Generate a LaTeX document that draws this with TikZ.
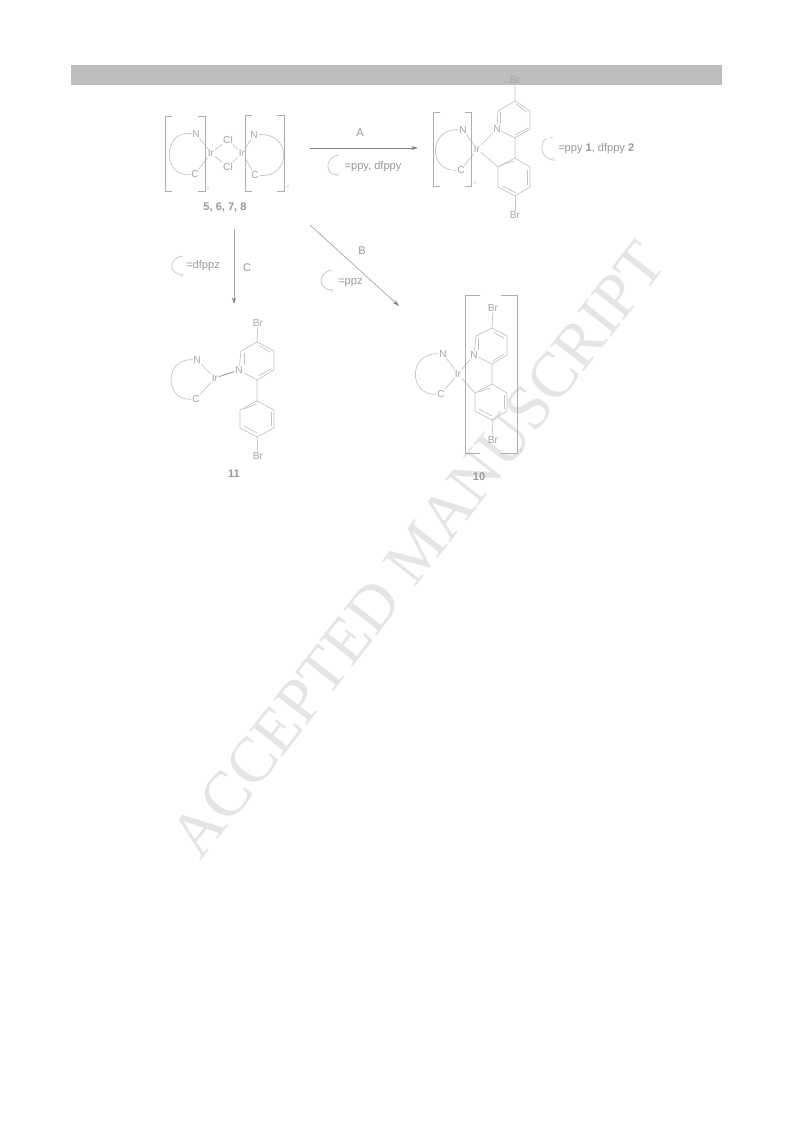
\documentclass[tikz,border=0pt]{standalone}
\usepackage{fontspec}
\setmainfont{Liberation Sans}
\newfontfamily\wmfont{Liberation Serif}
\usetikzlibrary{arrows.meta}
\definecolor{wm}{gray}{0.9}
\definecolor{bandc}{gray}{0.74}
\definecolor{ln}{gray}{0.76}
\definecolor{arr}{gray}{0.5}
\definecolor{txt}{gray}{0.6}
\tikzset{
 x=0.75pt,y=-0.75pt,
 bond/.style={draw=ln,line width=0.5pt},
 brk/.style={draw=ln!90!black,line width=0.6pt},
 rxn/.style={draw=arr,line width=0.5pt,-{Stealth[length=5pt,width=3pt]}},
 rxnlight/.style={draw=ln!85!black,line width=0.5pt,-{Stealth[length=5pt,width=3pt,color=arr]}},
 lab/.style={text=txt,font=\fontsize{8.3}{10}\selectfont,inner sep=0pt},
 atom/.style={text=ln!85!black,font=\fontsize{7.6}{9}\selectfont,inner sep=0.5pt},
 sub/.style={text=ln,font=\fontsize{3.5}{4}\selectfont,inner sep=0pt},
 cmp/.style={text=txt,font=\bfseries\fontsize{8.3}{10}\selectfont,inner sep=0pt},
}
\begin{document}
\begin{tikzpicture}
\useasboundingbox (0,0) rectangle (793,1123);
\fill[white] (0,0) rectangle (793,1123);
% watermark
\node[rotate=52,text=wm,font=\wmfont\fontsize{48}{48}\selectfont,inner sep=0pt] (wmark) at (418,550) {ACCEPTED MANUSCRIPT};
% band
\fill[bandc] (71,65) rectangle (722,85);

% ----- dimer
\node[atom] (n1) at (196,134) {N};
\node[atom] (c1) at (195,174) {C};
\node[atom] (ir1) at (211,153) {Ir};
\node[atom] (cl1) at (228,140) {Cl};
\node[atom] (cl2) at (228,167) {Cl};
\node[atom] (ir2) at (242,153) {Ir};
\node[atom] (n2) at (254,135) {N};
\node[atom] (c2) at (255,175) {C};
\draw[bond] (n1)--(ir1); \draw[bond] (c1)--(ir1);
\draw[bond] (ir1)--(cl1); \draw[bond] (ir1)--(cl2);
\draw[bond] (cl1)--(ir2); \draw[bond] (cl2)--(ir2);
\draw[bond] (ir2)--(n2); \draw[bond] (ir2)--(c2);
\draw[bond] (n1) .. controls (162,130) and (162,178) .. (c1);
\draw[bond] (n2) .. controls (292,132) and (292,178) .. (c2);
\draw[brk] (172,116) -- (165,116) -- (165,191) -- (172,191);
\draw[brk] (198,116) -- (205,116) -- (205,191) -- (198,191);
\draw[brk] (252,115) -- (245,115) -- (245,191) -- (252,191);
\draw[brk] (277,115) -- (284,115) -- (284,191) -- (277,191);
\node[sub] (s1) at (208,188) {2};
\node[sub] (s2) at (288,187) {2};
\node[cmp] (l5678) at (225,207) {5, 6, 7, 8};

% ----- arrow A
\coordinate (a1) at (310,148);
\coordinate (a2) at (418,148);
\draw[rxn] (a1) -- (a2);
\node[lab] (la) at (360,133) {A};
\draw[bond] (339,155) .. controls (324,157) and (325,175) .. (337,175);
\node[sub] (sa) at (338,175) {2};
\node[lab] (ta) at (373,167) {=ppy, dfppy};

% ----- complex 1,2
\node[atom] (n3) at (463,130) {N};
\node[atom] (c3) at (461,170) {C};
\node[atom] (ir3) at (477,149) {Ir};
\node[atom] (n4) at (497,129) {N};
\draw[bond] (n3)--(ir3); \draw[bond] (c3)--(ir3); \draw[bond] (ir3)--(n4);
\draw[bond] (n3) .. controls (428,128) and (428,172) .. (c3);
\draw[brk] (440,112) -- (433,112) -- (433,186) -- (440,186);
\draw[brk] (465,112) -- (471,112) -- (471,186) -- (465,186);
\node[sub] (s3) at (475,183) {2};
\node[atom] (br1) at (515,80) {Br};
\node[atom] (br2) at (515,215) {Br};
\coordinate (p1) at (515,101); \coordinate (p2) at (530,111); \coordinate (p3) at (530,129);
\coordinate (p4) at (515,138); \coordinate (p5) at (498,111);
\draw[bond] (br1)--(p1)--(p2)--(p3)--(p4)--(n4)--(p5)--(p1);
\draw[bond] (516,104)--(527,112); \draw[bond] (528,128)--(515,135); \draw[bond] (500,112)--(500,124);
\coordinate (q1) at (515,158); \coordinate (q2) at (530,167); \coordinate (q3) at (530,187);
\coordinate (q4) at (515,196); \coordinate (q5) at (498,187); \coordinate (q6) at (498,167);
\draw[bond] (p4)--(q1)--(q2)--(q3)--(q4)--(q5)--(q6)--(q1);
\draw[bond] (527,170)--(527,185); \draw[bond] (516,193)--(502,186); \draw[bond] (501,165)--(514,161);
\draw[bond] (q4)--(br2); \draw[bond] (ir3)--(q6);
\draw[bond] (547,138) .. controls (538,143) and (541,159) .. (553,160);
\draw[bond] (553,138) -- (550,137.5);
\node[sub] (sb) at (554,160) {2};
\node[lab,anchor=west] (tb) at (558,149) {=ppy \textbf{1}, dfppy \textbf{2}};

% ----- arrow C
\coordinate (c1a) at (234,229);
\coordinate (c1b) at (234,304);
\draw[rxnlight] (c1a) -- (c1b);
\node[lab] (lc) at (247,268) {C};
\draw[bond] (183,256) .. controls (168,258) and (168,274) .. (183,275);
\node[sub] (sc) at (182,276) {2};
\node[lab,anchor=west] (tc) at (186,266) {=dfppz};

% ----- arrow B
\coordinate (b1a) at (310,225);
\coordinate (b1b) at (399,306);
\draw[rxnlight] (b1a) -- (b1b);
\node[lab] (lb) at (362,251) {B};
\draw[bond] (332,270) .. controls (317,272) and (318,290) .. (332,290);
\node[sub] (sd) at (332,291) {2};
\node[lab,anchor=west] (td) at (338,283) {=ppz};

% ----- complex 11
\node[atom] (n5) at (197,360) {N};
\node[atom] (c5) at (196,399) {C};
\node[atom] (ir5) at (215,378) {Ir};
\node[atom] (n6) at (239,370) {N};
\node[atom] (br3) at (258,323) {Br};
\node[atom] (br4) at (258,456) {Br};
\draw[bond] (n5)--(ir5); \draw[bond] (c5)--(ir5); \draw[line width=0.7pt,draw=ln!80!black] (ir5)--(n6);
\draw[bond] (n5) .. controls (164,358) and (164,401) .. (c5);
\coordinate (r1) at (257,342); \coordinate (r2) at (274,351); \coordinate (r3) at (274,370);
\coordinate (r4) at (257,380); \coordinate (r5) at (241,351);
\draw[bond] (br3)--(r1)--(r2)--(r3)--(r4)--(n6)--(r5)--(r1);
\draw[bond] (259,346)--(271,352); \draw[bond] (271,369)--(258,376); \draw[bond] (244,353)--(244,365);
\coordinate (t1) at (257,401); \coordinate (t2) at (274,410); \coordinate (t3) at (274,428);
\coordinate (t4) at (257,437); \coordinate (t5) at (240,428); \coordinate (t6) at (240,410);
\draw[bond] (r4)--(t1)--(t2)--(t3)--(t4)--(t5)--(t6)--(t1);
\draw[bond] (271,412)--(271,426); \draw[bond] (257,433)--(244,426); \draw[bond] (244,409)--(256,404);
\draw[bond] (t4)--(br4);
\node[cmp] (l11) at (234,474) {11};

% ----- complex 10
\node[atom] (n7) at (443,354) {N};
\node[atom] (c7) at (441,394) {C};
\node[atom] (ir7) at (458,374) {Ir};
\node[atom] (n8) at (474,355) {N};
\node[atom] (br5) at (493,308) {Br};
\node[atom] (br6) at (493,440) {Br};
\draw[bond] (n7)--(ir7); \draw[bond] (c7)--(ir7); \draw[bond] (ir7)--(n8);
\draw[bond] (n7) .. controls (408,352) and (408,396) .. (c7);
\coordinate (u1) at (492,328); \coordinate (u2) at (507,336); \coordinate (u3) at (507,355);
\coordinate (u4) at (492,364); \coordinate (u5) at (476,336);
\draw[bond] (br5)--(u1)--(u2)--(u3)--(u4)--(n8)--(u5)--(u1);
\draw[bond] (493,332)--(504,338); \draw[bond] (504,354)--(493,361); \draw[bond] (478,338)--(478,350);
\coordinate (v1) at (492,384); \coordinate (v2) at (507,393); \coordinate (v3) at (507,411);
\coordinate (v4) at (492,420); \coordinate (v5) at (475,411); \coordinate (v6) at (475,393);
\draw[bond] (u4)--(v1)--(v2)--(v3)--(v4)--(v5)--(v6)--(v1);
\draw[bond] (504,395)--(504,409); \draw[bond] (492,416)--(479,409); \draw[bond] (479,392)--(490,388);
\draw[bond] (v4)--(br6); \draw[bond] (ir7)--(v6);
\draw[brk] (480,295) -- (465,295) -- (465,453) -- (480,453);
\draw[brk] (501,295) -- (517,295) -- (517,453) -- (501,453);
\node[sub] (s7) at (521,451) {2};
\node[cmp] (l10) at (479,477) {10};
\end{tikzpicture}
\end{document}
